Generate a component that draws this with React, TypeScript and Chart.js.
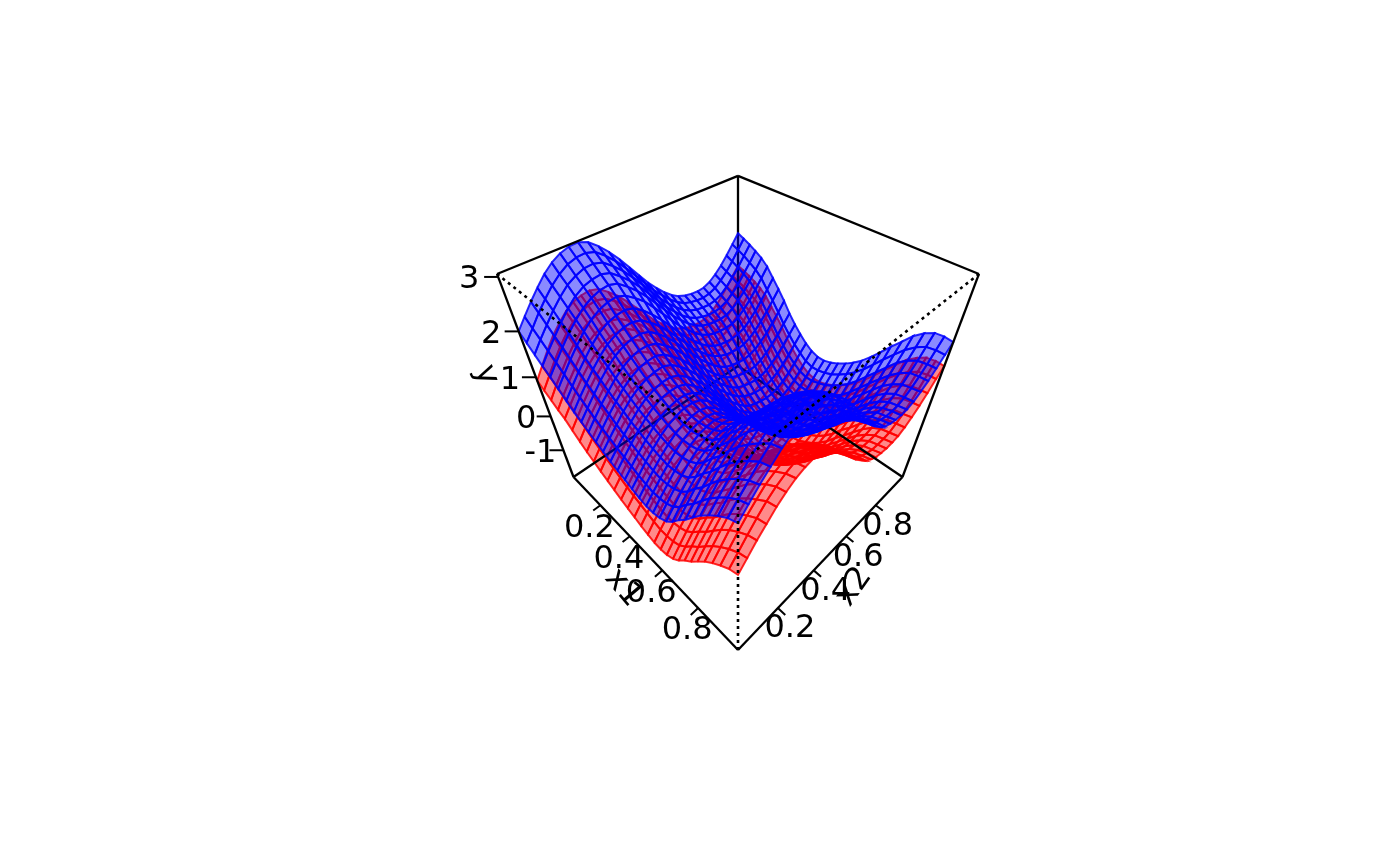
import { useEffect, useRef } from "react";
import { Chart, registerables } from "chart.js";

Chart.register(...registerables);

const x1Grid = [0,.034,.069,.103,.138,.172,.207,.241,.276,.31,.345,.379,.414,.448,.483,.517,.552,.586,.621,.655,.69,.724,.759,.793,.828,.862,.897,.931,.966,1];
const x2Grid = [0,.034,.069,.103,.138,.172,.207,.241,.276,.31,.345,.379,.414,.448,.483,.517,.552,.586,.621,.655,.69,.724,.759,.793,.828,.862,.897,.931,.966,1];
const x1Ticks = [0.2, 0.4, 0.6, 0.8];
const x2Ticks = [0.2, 0.4, 0.6, 0.8];
const yTicks = [-1, 0, 1, 2, 3];
const yMin = -1.9;
const yMax = 3.05;

// upper surface, one row per x1, one column per x2
const blueY = [
[2.00,2.20,2.40,2.58,2.75,2.88,2.97,3.02,3.03,2.97,2.83,2.66,2.45,2.22,1.98,1.75,1.55,1.37,1.22,1.11,1.04,1.00,.98,.99,1.05,1.16,1.30,1.47,1.66,1.85],
[1.86,2.06,2.27,2.45,2.62,2.75,2.85,2.90,2.91,2.86,2.72,2.55,2.34,2.12,1.88,1.65,1.46,1.28,1.13,1.02,.96,.92,.90,.92,.98,1.09,1.23,1.40,1.60,1.79],
[1.72,1.93,2.13,2.32,2.49,2.63,2.72,2.78,2.79,2.74,2.60,2.44,2.23,2.01,1.77,1.55,1.35,1.18,1.03,.93,.86,.83,.81,.83,.89,1.01,1.16,1.33,1.53,1.72],
[1.58,1.79,1.99,2.18,2.36,2.50,2.60,2.65,2.67,2.62,2.48,2.32,2.12,1.90,1.66,1.44,1.25,1.07,.93,.83,.77,.73,.72,.74,.81,.92,1.07,1.25,1.44,1.64],
[1.45,1.66,1.87,2.06,2.23,2.37,2.47,2.53,2.55,2.50,2.36,2.20,2.00,1.78,1.55,1.33,1.14,.97,.83,.73,.67,.64,.62,.64,.71,.83,.97,1.15,1.35,1.55],
[1.30,1.51,1.72,1.91,2.09,2.23,2.33,2.39,2.41,2.35,2.22,2.07,1.86,1.64,1.41,1.19,1.00,.83,.69,.59,.53,.50,.49,.50,.57,.69,.84,1.02,1.22,1.42],
[1.15,1.36,1.57,1.75,1.93,2.07,2.17,2.22,2.24,2.19,2.06,1.89,1.69,1.47,1.24,1.01,.82,.65,.51,.40,.34,.31,.30,.32,.38,.50,.65,.83,1.02,1.22],
[1.02,1.23,1.43,1.62,1.79,1.93,2.02,2.08,2.09,2.04,1.90,1.74,1.53,1.31,1.08,.85,.66,.48,.34,.24,.17,.14,.12,.14,.21,.32,.47,.64,.83,1.03],
[.91,1.11,1.31,1.50,1.67,1.80,1.89,1.94,1.95,1.90,1.76,1.59,1.38,1.15,.92,.69,.49,.31,.16,.05,-.01,-.05,-.07,-.05,.01,.12,.26,.43,.62,.82],
[.80,1.00,1.20,1.37,1.54,1.67,1.76,1.81,1.81,1.75,1.61,1.44,1.23,1.00,.75,.52,.32,.14,-.02,-.13,-.20,-.24,-.27,-.26,-.20,-.09,.05,.21,.40,.59],
[.70,.89,1.09,1.26,1.43,1.55,1.64,1.68,1.69,1.62,1.47,1.30,1.08,.85,.60,.37,.16,-.02,-.18,-.30,-.37,-.42,-.44,-.44,-.38,-.28,-.14,.02,.21,.39],
[.60,.79,.98,1.16,1.32,1.44,1.52,1.56,1.57,1.50,1.35,1.17,.95,.72,.47,.24,.03,-.16,-.32,-.44,-.52,-.57,-.59,-.59,-.54,-.44,-.31,-.15,.04,.22],
[.50,.69,.88,1.05,1.21,1.33,1.41,1.45,1.45,1.38,1.23,1.05,.83,.59,.34,.10,-.11,-.30,-.47,-.59,-.65,-.70,-.73,-.73,-.68,-.59,-.45,-.29,-.10,.07],
[.42,.61,.80,.97,1.13,1.25,1.33,1.36,1.36,1.29,1.14,.96,.74,.50,.25,.01,-.20,-.39,-.55,-.67,-.75,-.80,-.84,-.84,-.79,-.69,-.56,-.40,-.22,-.04],
[.34,.53,.72,.89,1.05,1.17,1.25,1.29,1.29,1.22,1.07,.89,.67,.43,.18,-.06,-.27,-.46,-.62,-.74,-.82,-.87,-.90,-.90,-.85,-.75,-.62,-.46,-.28,-.10],
[.26,.45,.65,.82,.98,1.10,1.18,1.23,1.23,1.17,1.02,.84,.62,.39,.14,-.10,-.30,-.49,-.64,-.76,-.84,-.89,-.90,-.91,-.85,-.75,-.62,-.46,-.27,-.10],
[.19,.39,.58,.76,.92,1.05,1.13,1.18,1.19,1.13,.98,.81,.60,.37,.13,-.10,-.30,-.49,-.64,-.75,-.82,-.87,-.89,-.88,-.83,-.72,-.58,-.41,-.23,-.05],
[.14,.34,.54,.72,.89,1.03,1.12,1.17,1.18,1.12,.98,.82,.61,.38,.14,-.09,-.29,-.47,-.62,-.73,-.79,-.83,-.85,-.84,-.78,-.67,-.53,-.35,-.16,.03],
[.14,.35,.55,.74,.91,1.05,1.15,1.20,1.22,1.16,1.02,.86,.66,.43,.20,-.03,-.23,-.40,-.55,-.65,-.72,-.75,-.77,-.75,-.68,-.57,-.43,-.25,-.05,.14],
[.18,.39,.60,.78,.96,1.10,1.20,1.26,1.28,1.23,1.09,.93,.73,.51,.28,.05,-.14,-.31,-.45,-.55,-.61,-.65,-.66,-.64,-.57,-.45,-.30,-.12,.07,.27],
[.28,.49,.70,.89,1.07,1.21,1.31,1.37,1.39,1.34,1.21,1.05,.86,.64,.41,.19,0,-.17,-.31,-.42,-.47,-.51,-.51,-.49,-.42,-.30,-.15,.03,.23,.43],
[.46,.67,.88,1.07,1.25,1.39,1.49,1.56,1.58,1.53,1.40,1.24,1.05,.83,.61,.38,.19,.02,-.12,-.22,-.28,-.31,-.32,-.30,-.23,-.11,.04,.22,.42,.63],
[.70,.91,1.12,1.31,1.49,1.63,1.73,1.79,1.81,1.76,1.63,1.47,1.27,1.05,.82,.60,.41,.23,.09,-.01,-.05,-.08,-.09,-.06,.02,.12,.27,.45,.65,.85],
[.90,1.11,1.32,1.51,1.69,1.84,1.94,2.00,2.02,1.97,1.84,1.69,1.49,1.27,1.04,.82,.63,.46,.32,.22,.17,.14,.13,.15,.22,.34,.50,.67,.88,1.08],
[1.15,1.36,1.57,1.76,1.94,2.08,2.18,2.24,2.26,2.21,2.08,1.92,1.72,1.50,1.27,1.05,.86,.68,.54,.44,.40,.37,.36,.38,.45,.57,.72,.90,1.10,1.30],
[1.38,1.59,1.80,1.99,2.17,2.31,2.41,2.47,2.49,2.44,2.31,2.15,1.95,1.73,1.50,1.28,1.09,.92,.78,.68,.62,.59,.58,.60,.67,.79,.93,1.12,1.31,1.52],
[1.58,1.79,2.00,2.19,2.36,2.50,2.60,2.66,2.68,2.63,2.50,2.33,2.13,1.91,1.68,1.46,1.27,1.10,.95,.85,.79,.76,.75,.77,.84,.95,1.10,1.28,1.47,1.68],
[1.75,1.96,2.16,2.35,2.52,2.66,2.75,2.81,2.83,2.78,2.64,2.48,2.28,2.05,1.82,1.59,1.40,1.22,1.08,.97,.91,.88,.86,.88,.95,1.06,1.21,1.38,1.58,1.78],
[1.90,2.10,2.30,2.49,2.66,2.79,2.88,2.93,2.94,2.89,2.75,2.58,2.37,2.14,1.90,1.67,1.47,1.29,1.15,1.04,.96,.92,.91,.92,.99,1.09,1.24,1.41,1.61,1.80],
[1.98,2.18,2.38,2.55,2.72,2.85,2.94,2.99,3.00,2.94,2.80,2.63,2.42,2.19,1.95,1.72,1.52,1.34,1.19,1.07,1.00,.96,.94,.95,1.01,1.12,1.25,1.42,1.61,1.78],
];

// lower surface, same layout
const redY = [
[.92,1.16,1.40,1.62,1.80,1.95,2.06,2.11,2.13,2.08,1.94,1.78,1.57,1.35,1.12,.89,.70,.53,.38,.28,.21,.18,.17,.18,.25,.37,.52,.69,.89,1.08],
[.80,1.03,1.27,1.48,1.67,1.82,1.93,1.99,2.01,1.96,1.83,1.67,1.46,1.25,1.02,.79,.61,.44,.29,.19,.14,.11,.09,.12,.19,.30,.45,.63,.83,1.03],
[.68,.92,1.14,1.35,1.54,1.70,1.80,1.86,1.88,1.84,1.71,1.55,1.35,1.14,.91,.70,.51,.35,.21,.11,.05,.02,.01,.03,.10,.23,.38,.56,.77,.97],
[.56,.79,1.01,1.21,1.41,1.56,1.67,1.73,1.76,1.71,1.58,1.43,1.24,1.03,.79,.58,.40,.23,.10,0,-.05,-.08,-.08,-.05,.02,.14,.30,.49,.69,.90],
[.46,.68,.90,1.10,1.28,1.42,1.53,1.60,1.63,1.59,1.46,1.31,1.12,.90,.68,.47,.29,.13,0,-.09,-.14,-.17,-.18,-.15,-.07,.06,.21,.40,.61,.81],
[.30,.52,.74,.94,1.13,1.28,1.39,1.46,1.49,1.44,1.32,1.17,.97,.76,.54,.33,.15,-.01,-.14,-.23,-.28,-.30,-.30,-.28,-.20,-.07,.09,.27,.48,.69],
[.14,.36,.58,.77,.96,1.11,1.22,1.28,1.31,1.27,1.15,.99,.80,.59,.37,.15,-.03,-.19,-.32,-.42,-.47,-.49,-.49,-.46,-.39,-.26,-.10,.09,.29,.50],
[0,.22,.43,.63,.81,.96,1.06,1.13,1.15,1.12,.99,.84,.64,.43,.21,-.01,-.19,-.36,-.49,-.58,-.64,-.65,-.66,-.63,-.55,-.43,-.27,-.09,.11,.32],
[-.12,.09,.30,.50,.69,.83,.93,.99,1.01,.97,.85,.69,.49,.27,.05,-.17,-.36,-.53,-.67,-.77,-.81,-.84,-.85,-.82,-.75,-.63,-.48,-.29,-.09,.12],
[-.24,-.03,.18,.37,.55,.69,.79,.85,.87,.82,.69,.53,.33,.12,-.12,-.34,-.53,-.70,-.84,-.94,-1.00,-1.03,-1.05,-1.02,-.95,-.83,-.68,-.51,-.30,-.10],
[-.35,-.15,.06,.25,.43,.56,.67,.72,.74,.68,.55,.39,.18,-.04,-.27,-.49,-.69,-.86,-1.00,-1.11,-1.17,-1.21,-1.21,-1.20,-1.13,-1.02,-.86,-.69,-.49,-.29],
[-.46,-.26,-.05,.14,.31,.45,.54,.59,.62,.56,.42,.26,.05,-.17,-.40,-.62,-.82,-.99,-1.14,-1.25,-1.31,-1.35,-1.36,-1.34,-1.28,-1.17,-1.02,-.85,-.65,-.46],
[-.57,-.37,-.16,.02,.20,.33,.42,.48,.49,.44,.30,.13,-.07,-.30,-.54,-.76,-.96,-1.13,-1.29,-1.40,-1.44,-1.48,-1.49,-1.48,-1.42,-1.31,-1.16,-.98,-.78,-.60],
[-.66,-.46,-.25,-.07,.11,.24,.34,.38,.40,.34,.21,.04,-.16,-.39,-.63,-.85,-1.05,-1.22,-1.37,-1.47,-1.54,-1.57,-1.60,-1.58,-1.52,-1.40,-1.26,-1.09,-.89,-.70],
[-.75,-.54,-.34,-.15,.02,.16,.25,.31,.32,.27,.13,-.03,-.24,-.46,-.70,-.92,-1.12,-1.29,-1.44,-1.54,-1.61,-1.64,-1.66,-1.64,-1.58,-1.46,-1.31,-1.14,-.94,-.75],
[-.84,-.63,-.42,-.23,-.06,.08,.18,.24,.26,.21,.08,-.09,-.29,-.50,-.74,-.96,-1.15,-1.32,-1.45,-1.56,-1.62,-1.66,-1.65,-1.64,-1.57,-1.45,-1.31,-1.13,-.93,-.74],
[-.92,-.70,-.50,-.30,-.12,.02,.12,.19,.21,.17,.04,-.12,-.31,-.53,-.75,-.96,-1.15,-1.32,-1.45,-1.55,-1.60,-1.63,-1.64,-1.61,-1.54,-1.42,-1.26,-1.08,-.88,-.68],
[-.98,-.76,-.55,-.35,-.16,0,.10,.17,.20,.15,.03,-.11,-.30,-.52,-.74,-.95,-1.14,-1.30,-1.43,-1.53,-1.57,-1.59,-1.59,-1.57,-1.49,-1.36,-1.21,-1.01,-.80,-.59],
[-.99,-.76,-.54,-.34,-.15,.01,.13,.19,.23,.19,.07,-.07,-.26,-.47,-.68,-.89,-1.08,-1.23,-1.36,-1.44,-1.49,-1.51,-1.51,-1.47,-1.38,-1.26,-1.10,-.90,-.68,-.47],
[-.96,-.73,-.50,-.30,-.11,.05,.17,.25,.29,.26,.13,-.01,-.19,-.39,-.60,-.81,-.99,-1.14,-1.26,-1.34,-1.38,-1.40,-1.40,-1.36,-1.27,-1.13,-.96,-.76,-.55,-.34],
[-.87,-.64,-.41,-.20,0,.16,.27,.35,.39,.36,.25,.11,-.06,-.26,-.47,-.68,-.85,-1.00,-1.12,-1.21,-1.24,-1.26,-1.24,-1.20,-1.11,-.97,-.81,-.61,-.39,-.17],
[-.70,-.47,-.24,-.03,.17,.33,.45,.54,.58,.55,.44,.30,.13,-.07,-.27,-.49,-.66,-.81,-.93,-1.01,-1.05,-1.06,-1.05,-1.01,-.92,-.78,-.61,-.41,-.19,.04],
[-.47,-.24,-.01,.20,.40,.56,.68,.76,.80,.77,.66,.53,.35,.15,-.07,-.27,-.44,-.60,-.71,-.79,-.81,-.82,-.81,-.76,-.66,-.54,-.37,-.17,.05,.27],
[-.28,-.05,.18,.39,.59,.77,.89,.97,1.01,.98,.87,.74,.56,.36,.15,-.05,-.21,-.36,-.48,-.56,-.59,-.60,-.59,-.55,-.46,-.32,-.13,.06,.29,.51],
[-.04,.19,.42,.63,.84,1.00,1.12,1.20,1.24,1.22,1.11,.97,.79,.59,.38,.18,.02,-.14,-.26,-.34,-.36,-.37,-.36,-.31,-.22,-.08,.09,.29,.52,.74],
[.18,.41,.64,.86,1.06,1.22,1.34,1.43,1.47,1.44,1.33,1.19,1.02,.82,.61,.41,.25,.10,-.02,-.10,-.14,-.14,-.13,-.09,0,.14,.31,.52,.73,.97],
[.37,.60,.84,1.05,1.24,1.40,1.53,1.61,1.65,1.63,1.52,1.37,1.19,1.00,.79,.59,.43,.28,.15,.08,.04,.03,.04,.09,.18,.31,.49,.69,.90,1.13],
[.53,.76,.99,1.20,1.39,1.56,1.67,1.75,1.80,1.77,1.66,1.52,1.34,1.14,.93,.72,.56,.40,.28,.20,.16,.15,.16,.20,.29,.43,.60,.80,1.02,1.24],
[.67,.89,1.12,1.33,1.53,1.68,1.79,1.87,1.90,1.88,1.76,1.62,1.43,1.22,1.01,.80,.63,.47,.35,.27,.21,.20,.21,.24,.34,.46,.64,.83,1.06,1.27],
[.74,.96,1.19,1.38,1.58,1.73,1.85,1.92,1.96,1.92,1.81,1.66,1.48,1.27,1.06,.85,.68,.52,.40,.30,.26,.24,.25,.28,.37,.50,.66,.85,1.07,1.26],
];

// viewing transform of the box, fitted to its eight corners
function project(x1: number, x2: number, y: number) {
  const h = (y - yMin) / (yMax - yMin);
  const p = x1 + x2 - 1;
  const q = x1 - x2;
  const w = 1 - 0.3174 * h - 0.2183 * q;
  return { x: 738 + (164.5 * p) / w, y: (477 - 290 * h + (31.1 - 2.5 * h) * q) / w, w };
}

function surface(rows: number[][], fill: string, line: string) {
  const cells: { w: number; ds: any }[] = [];
  for (let i = 0; i < x1Grid.length - 1; i++) {
    for (let j = 0; j < x2Grid.length - 1; j++) {
      const a = project(x1Grid[i], x2Grid[j], rows[i][j]);
      const b = project(x1Grid[i + 1], x2Grid[j], rows[i + 1][j]);
      const c = project(x1Grid[i + 1], x2Grid[j + 1], rows[i + 1][j + 1]);
      const d = project(x1Grid[i], x2Grid[j + 1], rows[i][j + 1]);
      cells.push({
        w: a.w + b.w + c.w + d.w,
        ds: {
          data: [a, b, c, d, a].map(({ x, y }) => ({ x, y })),
          fill: "shape",
          backgroundColor: fill,
          borderColor: line,
          borderWidth: 2,
          pointRadius: 0,
          tension: 0,
        },
      });
    }
  }
  // far cells first
  return cells.sort((m, n) => n.w - m.w).map((c) => c.ds);
}

function edge(from: number[], to: number[], dash: number[] = []) {
  const a = project(from[0], from[1], from[2]);
  const b = project(to[0], to[1], to[2]);
  return {
    data: [{ x: a.x, y: a.y }, { x: b.x, y: b.y }],
    borderColor: "#000",
    borderWidth: dash.length ? 2.6 : 2.3,
    borderDash: dash,
    pointRadius: 0,
    fill: false,
  };
}

function tickLine(x: number, y: number, x2: number, y2: number) {
  return { data: [{ x, y }, { x: x2, y: y2 }], borderColor: "#000", borderWidth: 2, pointRadius: 0, fill: false };
}

const textPlugin = {
  id: "axisText",
  afterDraw(chart: any) {
    const { ctx, scales } = chart;
    const put = (s: string, x: number, y: number, rot = 0) => {
      ctx.save();
      ctx.translate(scales.x.getPixelForValue(x), scales.y.getPixelForValue(y));
      ctx.rotate((rot * Math.PI) / 180);
      ctx.fillText(s, 0, 0);
      ctx.restore();
    };
    ctx.save();
    ctx.font = '32px "DejaVu Sans"';
    ctx.fillStyle = "#000";
    ctx.textAlign = "center";
    ctx.textBaseline = "middle";
    yTicks.forEach((t) => {
      const e = project(0, 0, t);
      put(String(t), e.x - (24.5 + 1.5 * t), e.y + 3);
    });
    x1Ticks.forEach((t) => {
      const e = project(t, 0, yMin);
      put(String(t), e.x - 11, e.y + 23);
    });
    x2Ticks.forEach((t) => {
      const e = project(1, t, yMin);
      put(String(t), e.x + 12, e.y + 21);
    });
    put("y", 486, 375, 70);
    put("x1", 623, 588, 50);
    put("x2", 854, 587, -55);
    ctx.restore();
  },
};

export default function App() {
  const canvasRef = useRef<HTMLCanvasElement | null>(null);

  useEffect(() => {
    if (!canvasRef.current) return;
    const behind = [
      edge([0, 1, yMin], [0, 1, yMax]),
      edge([0, 0, yMin], [0, 1, yMin]),
      edge([0, 1, yMin], [1, 1, yMin]),
    ];
    const front = [
      edge([0, 0, yMax], [0, 1, yMax]),
      edge([0, 1, yMax], [1, 1, yMax]),
      edge([0, 0, yMin], [0, 0, yMax]),
      edge([1, 1, yMin], [1, 1, yMax]),
      edge([0, 0, yMin], [1, 0, yMin]),
      edge([1, 0, yMin], [1, 1, yMin]),
      edge([0, 0, yMax], [1, 0, yMax], [3, 4]),
      edge([1, 1, yMax], [1, 0, yMax], [3, 4]),
      edge([1, 0, yMin], [1, 0, yMax], [3, 4]),
      ...yTicks.map((t) => {
        const e = project(0, 0, t);
        return tickLine(e.x - 14, e.y, e.x, e.y);
      }),
      ...x1Ticks.map((t) => {
        const a = project(t, 0, yMin);
        const b = project(t, -0.035, yMin);
        return tickLine(a.x, a.y, b.x, b.y);
      }),
      ...x2Ticks.map((t) => {
        const a = project(1, t, yMin);
        const b = project(1.035, t, yMin);
        return tickLine(a.x, a.y, b.x, b.y);
      }),
    ];
    const painted = [
      ...surface(redY, "rgba(255,0,0,0.46)", "rgba(255,0,0,0.85)"),
      ...behind,
      ...surface(blueY, "rgba(0,0,255,0.46)", "rgba(0,0,255,0.85)"),
      ...front,
    ];
    const chart = new Chart(canvasRef.current, {
      type: "scatter",
      // Chart.js paints the first dataset last
      data: { datasets: painted.reverse().map((d) => ({ ...d, showLine: true })) },
      options: {
        responsive: false,
        animation: false,
        events: [],
        layout: { padding: 0 },
        plugins: { legend: { display: false }, tooltip: { enabled: false } },
        scales: {
          x: { type: "linear", min: 0, max: 1400, display: false },
          y: { type: "linear", min: 0, max: 866, reverse: true, display: false },
        },
      },
      plugins: [textPlugin],
    });
    return () => chart.destroy();
  }, []);

  return <canvas ref={canvasRef} width={1400} height={866} style={{ position: "absolute", left: 0, top: 0 }} />;
}
